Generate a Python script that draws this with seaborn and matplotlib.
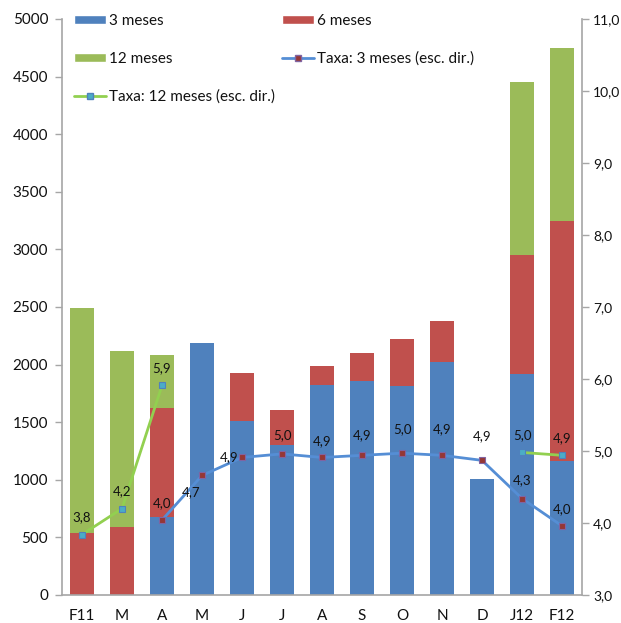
import numpy as np
import matplotlib
matplotlib.use("Agg")
import matplotlib.pyplot as plt
from matplotlib.patches import Patch
from matplotlib.lines import Line2D
import seaborn as sns

# Categories (months, Feb 2011 - Feb 2012)
months = ["F11", "M", "A", "M", "J", "J", "A", "S", "O", "N", "D", "J12", "F12"]

# Issued amounts by maturity (left scale)
vol_3m = [0, 0, 680, 2190, 1510, 1305, 1820, 1855, 1810, 2025, 1010, 1920, 1160]
vol_6m = [540, 590, 945, 0, 420, 300, 170, 250, 415, 350, 0, 1035, 2090]
vol_12m = [1950, 1530, 455, 0, 0, 0, 0, 0, 0, 0, 0, 1500, 1500]

# Rates (right scale); None where there was no issue
rate_3m = [None, None, 4.04, 4.66, 4.91, 4.96, 4.91, 4.94, 4.97, 4.94, 4.87, 4.34, 3.96]
rate_12m = [3.84, 4.20, 5.91, None, None, None, None, None, None, None, None, 4.98, 4.94]

# Label offsets (pixels) for the 3-month rate labels
off_3m = [None, None, (0, 17), (-11, -17), (-13, 0), (0, 19), (0, 16), (0, 20),
          (0, 24), (0, 26), (0, 24), (0, 18), (0, 17)]

BLUE, RED, GREEN = "#4F81BD", "#C0504D", "#9BBB59"
LINE3, LINE12 = "#558ED5", "#92D050"
GRAY = "#A6A6A6"
TXT = "#111111"

sns.set_style("white")
plt.rcParams["font.family"] = ["Lato", "DejaVu Sans"]

fig = plt.figure(figsize=(6.21, 6.23), dpi=100)
ax = fig.add_axes([62 / 621, 1 - 595 / 623, 520 / 621, 576 / 623])

x = np.arange(len(months))
v3 = np.array(vol_3m, float)
v6 = np.array(vol_6m, float)
v12 = np.array(vol_12m, float)

# Stacked bars: draw cumulative totals from the top segment down
for heights, col in [(v3 + v6 + v12, GREEN), (v3 + v6, RED), (v3, BLUE)]:
    sns.barplot(x=x, y=heights, color=col, saturation=1, width=0.62,
                linewidth=0, ax=ax)

ax.set_xlim(-0.5, len(months) - 0.5)
ax.set_ylim(0, 5000)
ax.set_yticks(np.arange(0, 5001, 500))
ax.set_xticks(x)
ax.set_xticklabels(months)
ax.set_xticks(np.arange(-0.5, len(months), 1), minor=True)
ax.set_xlabel("")
ax.set_ylabel("")
ax.tick_params(axis="x", which="major", length=0, pad=10, labelsize=11, colors=TXT)
ax.tick_params(axis="x", which="minor", length=5, width=1, color=GRAY, direction="out")
ax.tick_params(axis="y", length=5, width=1, color=GRAY, direction="out",
               labelsize=11, labelcolor=TXT, pad=5, left=True)
for s in ["top", "right"]:
    ax.spines[s].set_visible(False)
for s in ["left", "bottom"]:
    ax.spines[s].set_color(GRAY)
    ax.spines[s].set_linewidth(1.2)

# Rates on the secondary axis
ax2 = ax.twinx()
r3 = np.array([np.nan if v is None else v for v in rate_3m])
r12 = np.array([np.nan if v is None else v for v in rate_12m])
ax2.plot(x, r3, color=LINE3, lw=2, marker="s", ms=4.5,
         mfc="#953735", mec="#8064A2", mew=0.8)
ax2.plot(x, r12, color=LINE12, lw=2, marker="s", ms=4.5,
         mfc="#4BACC6", mec="#4F81BD", mew=0.8)
ax2.set_ylim(3, 11)
ax2.set_yticks(np.arange(3, 11.01, 1))
ax2.set_yticklabels([f"{v:.1f}".replace(".", ",") for v in np.arange(3, 11.01, 1)])
ax2.tick_params(axis="y", length=5, width=1, color=GRAY, direction="out",
                labelsize=10, labelcolor=TXT, pad=3, right=True)
for s in ["top", "left", "bottom"]:
    ax2.spines[s].set_visible(False)
ax2.spines["right"].set_color(GRAY)
ax2.spines["right"].set_linewidth(1.2)

def fmt(v):
    return f"{v:.1f}".replace(".", ",")

for i, v in enumerate(rate_3m):
    if v is None:
        continue
    dx, dy = off_3m[i]
    ax2.annotate(fmt(v), (i, v), xytext=(dx * 0.72, dy * 0.72),
                 textcoords="offset points", ha="center", va="center",
                 fontsize=9.5, color=TXT)
for i, v in enumerate(rate_12m):
    if v is None:
        continue
    ax2.annotate(fmt(v), (i, v), xytext=(0, 17 * 0.72),
                 textcoords="offset points", ha="center", va="center",
                 fontsize=9.5, color=TXT)

# Legend (row-major order across two columns)
h3 = Patch(facecolor=BLUE, label="3 meses")
h6 = Patch(facecolor=RED, label="6 meses")
h12 = Patch(facecolor=GREEN, label="12 meses")
hl3 = Line2D([], [], color=LINE3, lw=2, marker="s", ms=4.5, mfc="#953735",
             mec="#8064A2", label="Taxa: 3 meses (esc. dir.)")
hl12 = Line2D([], [], color=LINE12, lw=2, marker="s", ms=4.5, mfc="#4BACC6",
              mec="#4F81BD", label="Taxa: 12 meses (esc. dir.)")
leg = ax2.legend(handles=[h3, h12, hl12, h6, hl3], ncol=2, loc="upper left",
                 bbox_to_anchor=(74 / 621, 1 - 14 / 623), bbox_transform=fig.transFigure,
                 frameon=False, fontsize=11, handlelength=2.1, handleheight=0.55,
                 handletextpad=0.2, labelspacing=1.55, columnspacing=0.45,
                 borderpad=0, borderaxespad=0)
for t in leg.get_texts():
    t.set_color(TXT)

fig.savefig("out.png", dpi=100)
